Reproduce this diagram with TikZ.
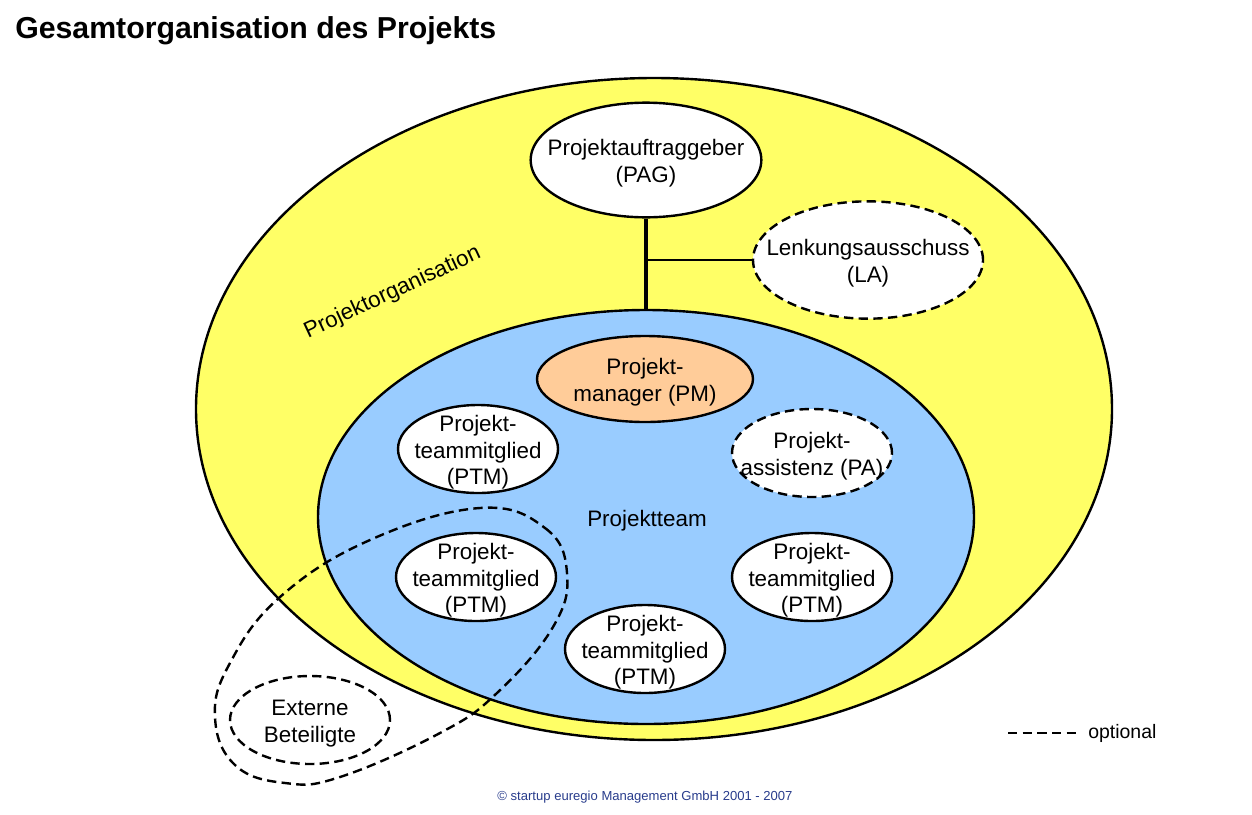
\documentclass[tikz,border=0pt]{standalone}
\usepackage{fontspec}
\setmainfont{Liberation Sans}
\usetikzlibrary{shapes.geometric}
\definecolor{orgyellow}{RGB}{255,255,102}
\definecolor{teamblue}{RGB}{153,204,255}
\definecolor{pmorange}{RGB}{255,204,153}
\definecolor{copyblue}{RGB}{40,60,140}

\begin{document}
\begin{tikzpicture}[x=0.75pt, y=-0.75pt,
    oval/.style={ellipse, draw, line width=1.8pt, fill=white, inner sep=0pt},
    member/.style={oval, minimum width=120pt, minimum height=66pt},
    optdash/.style={dash pattern=on 7pt off 4pt},
    txt/.style={align=center, font=\fontsize{16.8}{20}\selectfont},
    ovaltext/.style={txt, yshift=-2.5pt}]
    \useasboundingbox (0,0) rectangle (1252,814);

    % Titel
    \node[anchor=base west, inner sep=0pt, font=\bfseries\fontsize{22.7}{27}\selectfont] (title) at (15,38) {Gesamtorganisation des Projekts};

    % Projektorganisation
    \node[oval, fill=orgyellow, minimum width=687pt, minimum height=496.5pt] (org) at (654,409) {};
    \node[txt, rotate=25, anchor=base] (orgtext) at (395,298) {Projektorganisation};

    \node[oval, minimum width=173pt, minimum height=86pt] (pag) at (646,160) {};
    \node[ovaltext] (pagtext) at (pag) {Projektauftraggeber\\(PAG)};
    \node[oval, optdash, minimum width=172.5pt, minimum height=88pt] (la) at (868,260) {};
    \node[ovaltext] (latext) at (la) {Lenkungsausschuss\\(LA)};

    % Projektteam
    \node[oval, fill=teamblue, minimum width=492pt, minimum height=310.5pt] (team) at (646,517) {};
    \node[txt, anchor=base] (teamtext) at (647,526) {Projektteam};

    % Verbindungen
    \draw[line width=3pt] (pag.south) -- (team.north);
    \coordinate (branch) at (pag.south |- la.west);
    \draw[line width=2pt] (branch) -- (la.west);

    % Mitglieder
    \node[oval, fill=pmorange, minimum width=162pt, minimum height=64.5pt] (pm) at (645,379) {};
    \node[ovaltext] (pmtext) at (pm) {Projekt-\\manager (PM)};
    \node[member] (ptmA) at (478,449) {};
    \node[member] (ptmB) at (476,577) {};
    \node[member] (ptmC) at (812,577) {};
    \node[member] (ptmD) at (645,649) {};
    \foreach \m in {ptmA,ptmB,ptmC,ptmD}
        \node[ovaltext] (\m-text) at (\m) {Projekt-\\teammitglied\\(PTM)};
    \node[member, optdash] (pa) at (812,453) {};
    \node[ovaltext] (patext) at (pa) {Projekt-\\assistenz (PA)};

    % Externe Beteiligte
    \draw[line width=1.8pt, optdash] plot[smooth cycle, tension=0.7] coordinates {
        (480,508) (545,528) (567,573) (553,627) (497,693) (440,733) (340,777)
        (285,783) (235,765) (215,717) (230,663) (280,597) (370,540)};
    \node[member, optdash] (ext) at (310,720) {};
    \node[ovaltext] (exttext) at (ext) {Externe\\Beteiligte};

    % Legende
    \node[anchor=west, inner xsep=8.25pt, font=\fontsize{14.6}{17}\selectfont] (legtext) at (1077,733) {optional};
    \coordinate (legstart) at (1008,733);
    \draw[line width=1.8pt, optdash] (legstart) -- (legtext.west);

    \node[anchor=base, text=copyblue, font=\fontsize{9.8}{12}\selectfont] (copy) at (645,800) {© startup euregio Management GmbH 2001 - 2007};
\end{tikzpicture}
\end{document}
